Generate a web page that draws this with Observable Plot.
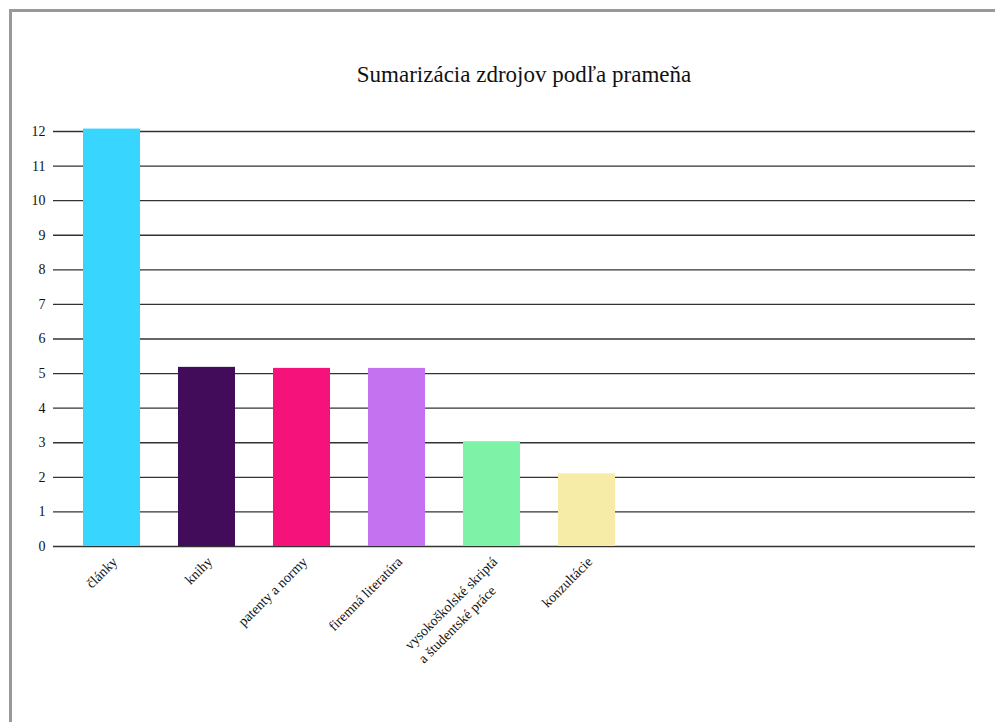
<!DOCTYPE html>
<html>
<head>
<meta charset="utf-8">
<script src="https://cdn.jsdelivr.net/npm/d3@7"></script>
<script src="https://cdn.jsdelivr.net/npm/@observablehq/plot@0.6"></script>
<style>
html, body { margin: 0; padding: 0; background: #fff; overflow: hidden; width: 995px; height: 722px; }
#frame { position: absolute; left: 9px; top: 9px; width: 1100px; height: 900px; border: 3px solid #999; box-sizing: border-box; }
#title { position: absolute; left: 0; top: 61px; width: 1048px; text-align: center; font-family: "Liberation Serif", "Times New Roman", Times, serif; font-size: 23px; line-height: 28px; color: #111; }
#chart { position: absolute; left: 0; top: 100px; }
</style>
</head>
<body>
<div id="frame"></div>
<div id="title">Sumarizácia zdrojov podľa prameňa</div>
<div id="chart"></div>
<script>
const categories = ["články", "knihy", "patenty a normy", "firemná literatúra", "vysokoškolské skriptá a študentské práce", "konzultácie"];
const labelLine1 = ["články", "knihy", "patenty a normy", "firemná literatúra", "vysokoškolské skriptá", "konzultácie"];
const labelLine2 = ["", "", "", "", "a študentské práce", ""];
const values = [12.07, 5.18, 5.15, 5.15, 3.03, 2.1];
const colors = ["#38d6fe", "#430c5b", "#f5127a", "#c472f0", "#7ef3a8", "#f6eca8"];
const yTicks = [0, 1, 2, 3, 4, 5, 6, 7, 8, 9, 10, 11, 12];

const data = categories.map((c, i) => ({cat: c, value: values[i], l1: labelLine1[i], l2: labelLine2[i]}));
const serif = "Liberation Serif, Times New Roman, serif";

const chart = Plot.plot({
  width: 995,
  height: 622,
  marginTop: 31,
  marginBottom: 176,
  marginLeft: 53,
  marginRight: 20,
  style: {fontFamily: serif, background: "transparent", color: "#111"},
  x: {domain: categories, range: [64, 634], paddingInner: 0.4, paddingOuter: 0.2, axis: null},
  y: {domain: [0, 12], axis: null},
  color: {domain: categories, range: colors},
  marks: [
    Plot.gridY(yTicks, {stroke: "#333", strokeOpacity: 1, strokeWidth: 1.4}),
    Plot.barY(data, {x: "cat", y: "value", fill: "cat"}),
    Plot.axisY(yTicks, {tickSize: 0, tickPadding: 8, fontSize: 14, label: null, fill: "#111"}),
    Plot.text(data, {x: "cat", text: "l1", frameAnchor: "bottom", dy: 13, dx: 3, rotate: -45, textAnchor: "end", lineAnchor: "middle", fontSize: 14, fill: "#111"}),
    Plot.text(data.filter(d => d.l2), {x: "cat", text: "l2", frameAnchor: "bottom", dy: 13, dx: 3, rotate: -45, textAnchor: "start", lineAnchor: "middle", fontSize: 14, fill: "#111"})
  ]
});
document.getElementById("chart").appendChild(chart);

// align second label lines to the start of their first line (left-aligned block)
const groups = chart.querySelectorAll('g[aria-label="text"]');
if (groups.length >= 2) {
  const first = Array.from(groups[0].querySelectorAll("text"));
  const second = Array.from(groups[1].querySelectorAll("text"));
  const withL2 = data.filter(d => d.l2);
  second.forEach((t, j) => {
    const idx = data.indexOf(withL2[j]);
    const len1 = first[idx].getComputedTextLength();
    t.setAttribute("x", -len1);
    t.setAttribute("y", "1.7em");
  });
}
</script>
</body>
</html>
